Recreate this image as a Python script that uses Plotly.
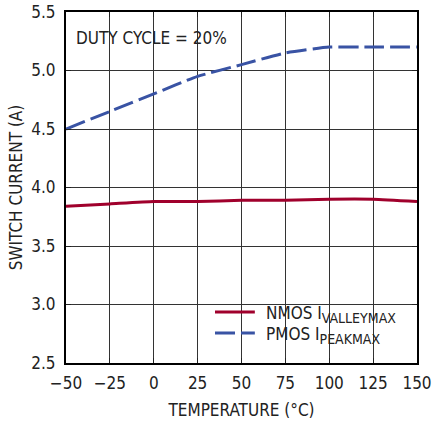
import plotly.graph_objects as go

temperature = [-50, -25, 0, 25, 50, 75, 100, 125, 150]
nmos_valley = [3.84, 3.86, 3.88, 3.88, 3.89, 3.89, 3.90, 3.90, 3.88]
pmos_peak = [4.50, 4.65, 4.80, 4.95, 5.05, 5.15, 5.20, 5.20, 5.20]

x_ticks = [-50, -25, 0, 25, 50, 75, 100, 125, 150]
y_ticks = [2.5, 3.0, 3.5, 4.0, 4.5, 5.0, 5.5]

SUB = "<sub><span style='font-size:14px'>{}</span></sub>"
series_names = ["NMOS I" + SUB.format("VALLEYMAX"), "PMOS I" + SUB.format("PEAKMAX")]

FONT = "DejaVu Sans Condensed, Liberation Sans Narrow, Roboto, sans-serif"
TXT = "#222"
RED = "#a0002c"
BLUE = "#3953a4"
DASH = "20px,6px"

fig = go.Figure()
fig.add_trace(go.Scatter(
    x=temperature, y=nmos_valley, mode="lines", name=series_names[0],
    line=dict(color=RED, width=3, shape="spline", smoothing=0.5),
))
fig.add_trace(go.Scatter(
    x=temperature, y=pmos_peak, mode="lines", name=series_names[1],
    line=dict(color=BLUE, width=3, dash=DASH, shape="spline", smoothing=0.5),
))

# white backgrounds that hide the grid behind the text boxes
fig.add_shape(type="rect", xref="paper", yref="paper", x0=0.39, x1=0.986, y0=0.031, y1=0.171,
              fillcolor="white", line=dict(width=0), layer="below")
fig.add_shape(type="rect", xref="paper", yref="paper", x0=0.006, x1=0.473, y0=0.892, y1=0.986,
              fillcolor="white", line=dict(width=0), layer="below")

fig.add_annotation(text="DUTY CYCLE = 20%", xref="paper", yref="paper", x=0.022, y=0.927,
                   xanchor="left", yanchor="middle", showarrow=False,
                   font=dict(family=FONT, size=17, color=TXT))

# legend (drawn as key lines + labels)
legend_rows = [(0.1453, RED, "solid"), (0.0855, BLUE, DASH)]
for (yy, col, dsh), label in zip(legend_rows, series_names):
    fig.add_shape(type="line", xref="paper", yref="paper", x0=0.4245, x1=0.538, y0=yy, y1=yy,
                  line=dict(color=col, width=3, dash=dsh), layer="above")
    fig.add_annotation(text=label, xref="paper", yref="paper", x=0.565, y=yy,
                       xanchor="left", yanchor="middle", yshift=-3, showarrow=False,
                       font=dict(family=FONT, size=17, color=TXT))

axis_common = dict(
    showline=True, linecolor="black", linewidth=2, mirror="ticks",
    ticks="inside", ticklen=5, tickcolor="#222", tickwidth=1,
    showgrid=True, gridcolor="#333", gridwidth=1, zeroline=False,
    tickfont=dict(family=FONT, size=17, color=TXT), automargin=False,
    ticklabeloverflow="allow",
)

fig.update_xaxes(range=[-50, 150], tickvals=x_ticks, ticklabelstandoff=4,
                 title=dict(text="TEMPERATURE (°C)", font=dict(family=FONT, size=17, color=TXT), standoff=12),
                 **axis_common)
fig.update_yaxes(range=[2.5, 5.5], tickvals=y_ticks, tickformat=".1f", ticklabelstandoff=5,
                 title=dict(text="SWITCH CURRENT (A)", font=dict(family=FONT, size=17, color=TXT), standoff=4),
                 **axis_common)

fig.update_layout(
    width=433, height=421,
    margin=dict(l=66, r=16, t=12, b=58),
    plot_bgcolor="white", paper_bgcolor="white",
    font=dict(family=FONT, size=17, color=TXT),
    showlegend=False,
)

# remove the page's default body margin so the figure fills the window exactly
fig.write_html("out.html", config={"displayModeBar": False},
               post_script="document.body.style.margin='0';document.body.style.overflow='hidden';")
